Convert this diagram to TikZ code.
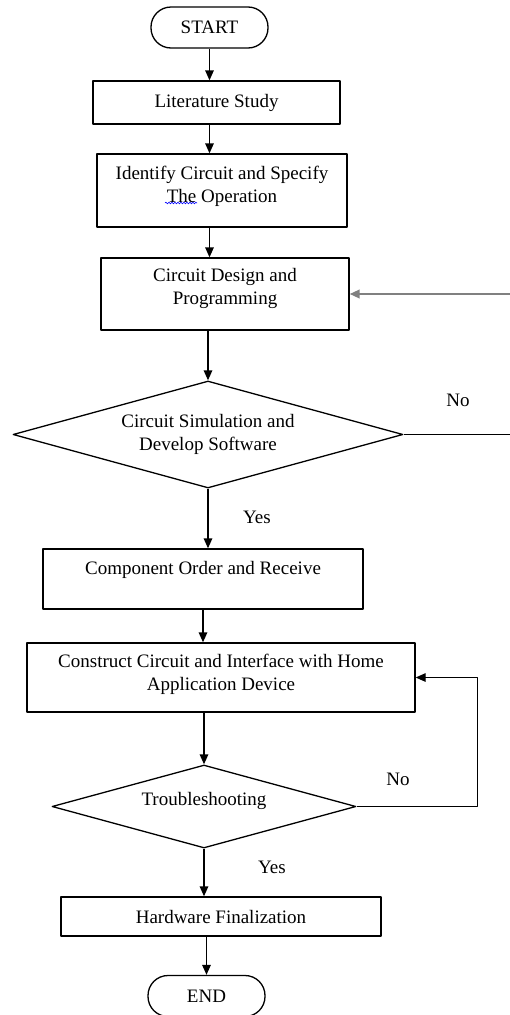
\documentclass[tikz,border=0pt]{standalone}
\usepackage{fontspec}
\setmainfont{Liberation Serif}
\usetikzlibrary{shapes.geometric,arrows.meta,decorations.pathmorphing}
\begin{document}
\begin{tikzpicture}[x=1pt,y=-1pt,line join=round,line width=1.3pt,>={Triangle[length=10pt,width=8.5pt]},font=\fontsize{19}{23}\selectfont]
		\tikzset{box/.style={draw,rectangle,align=center,inner sep=0pt},
			term/.style={draw,rectangle,rounded corners=20pt,minimum width=117pt,minimum height=41pt,inner sep=0pt},
			decision/.style={draw,diamond,align=center,inner sep=0pt}}
		\useasboundingbox (0,0) rectangle (510,1015);
		\node[term] (start) at (209.5,27.5) {START};
		\node[box,minimum width=247pt,minimum height=43pt] (lit) at (216.5,102.5) {Literature Study};
		\node[box,minimum width=250pt,minimum height=73pt,text depth=12pt] (ident) at (222,190.5) {Identify Circuit and Specify\\The Operation};
		\node[box,minimum width=248pt,minimum height=72pt,text depth=16pt] (design) at (225,294) {Circuit Design and\\Programming};
		\node[decision,aspect=3.64,minimum width=390pt,minimum height=107pt] (sim) at (208,434.5) {Circuit Simulation and\\Develop Software};
		\node[box,minimum width=320pt,minimum height=60pt,text depth=22pt] (comp) at (203,579) {Component Order and Receive};
		\node[box,minimum width=388pt,minimum height=69pt,text depth=10pt] (cons) at (221,677.5) {Construct Circuit and Interface with Home\\Application Device};
		\node[decision,aspect=3.66,minimum width=304pt,minimum height=83pt,text depth=16pt] (trouble) at (204,806.5) {Troubleshooting};
		\node[box,minimum width=320pt,minimum height=39pt] (hw) at (221,916.5) {Hardware Finalization};
		\node[term] (end) at (206.5,996) {END};
		% yes / no
		\node (noa) at (458,400) {No};
		\node (yesa) at (257,517) {Yes};
		\node (nob) at (398,779) {No};
		\node (yesb) at (272,867) {Yes};
		% flow
		\draw[->] (start) -- (start |- lit.north);
		\draw[->] (lit.south -| start) -- (ident.north -| start);
		\draw[->] (ident.south -| start) -- (design.north -| start);
		\draw[->] (design.south -| sim) -- (sim.north);
		\draw[->] (sim.south) -- (sim.south |- comp.north);
		\draw[->] (comp.south) -- (comp.south |- cons.north);
		\draw[->] (cons.south -| trouble) -- (trouble.north);
		\draw[->] (trouble.south) -- (trouble.south |- hw.north);
		\draw[->] (hw.south -| end) -- (end.north);
		% loops
		\draw (sim.east) -- ++(112,0) coordinate (loopa);
		\draw[->,gray,line width=2.2pt] (loopa |- design.east) -- (design.east);
		\draw[->] (trouble.east) -- ++(121,0) |- (cons.east);
		% spell check mark
		\draw[blue,line width=0.6pt,decorate,decoration={snake,amplitude=0.8pt,segment length=3pt}] (165,203) -- (197,203);
	\end{tikzpicture}
\end{document}
